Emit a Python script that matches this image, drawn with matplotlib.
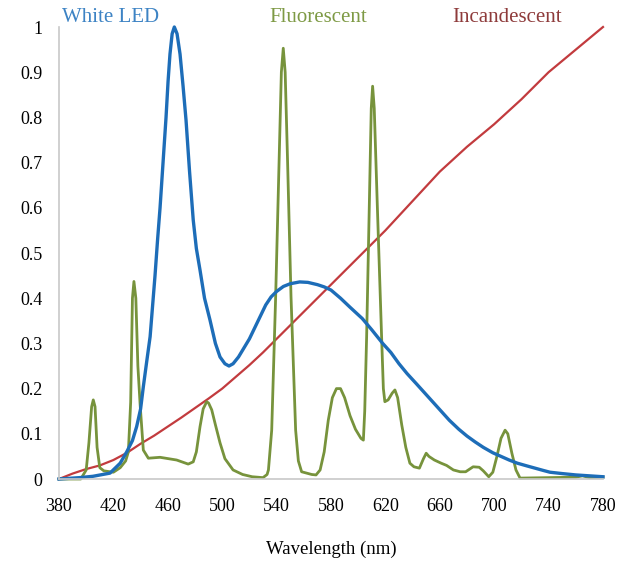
import matplotlib.pyplot as plt

plt.rcParams['font.family'] = 'Liberation Serif'

# spectra (wavelength nm, relative power)
led_nm  = [380, 395, 405, 417.5, 425, 429.8, 434, 437.1, 440, 442, 444.5, 447, 449, 450.6, 452.5, 454.3, 456.5, 458.7,
           460.2, 461.6, 463.2, 464.8, 466.8, 469, 471.2, 473.4, 476, 478.7, 481, 483.7, 487, 491, 495, 498.4, 502,
           505, 508, 512, 516, 520, 524, 528, 532, 536, 540, 545, 550, 557, 563, 570, 575, 580, 587, 594, 603, 610,
           618, 624, 630, 636, 643, 649, 655, 661, 667, 674, 680, 686, 692, 699, 705, 711, 717, 724, 730, 736, 741,
           750, 760, 770, 780]
led_val = [0.0, 0.003, 0.006, 0.013, 0.035, 0.06, 0.085, 0.116, 0.155, 0.204, 0.26, 0.315, 0.39, 0.45, 0.53, 0.6, 0.7, 0.8,
           0.88, 0.94, 0.985, 1.0, 0.985, 0.94, 0.87, 0.794, 0.68, 0.573, 0.51, 0.462, 0.4, 0.352, 0.3, 0.27, 0.255,
           0.25, 0.255, 0.27, 0.29, 0.31, 0.335, 0.36, 0.385, 0.403, 0.415, 0.426, 0.432, 0.436, 0.435, 0.43, 0.425, 0.418, 0.4, 0.38, 0.355, 0.33,
           0.30, 0.28, 0.255, 0.233, 0.21, 0.19, 0.17, 0.15, 0.13, 0.11, 0.095, 0.082, 0.07, 0.058, 0.05, 0.042, 0.035, 0.029, 0.024, 0.019, 0.015,
           0.012, 0.009, 0.007, 0.005]

flu_nm  = [380, 396, 400, 402, 404, 405.2, 406.5, 408, 410, 413, 420, 425, 429, 431, 432.7, 434, 435.1, 436.5, 438,
           439.6, 442, 445.7, 454.3, 466.5, 475, 478.7, 481, 483.7, 486, 488.6, 490, 492.3, 495, 498.4, 502, 508,
           515, 522, 530, 533, 534, 536.4, 539.3, 541.8, 543.5, 544.9, 546.3, 548.1, 550.6, 554, 556, 558.4, 565.8,
           569, 572, 575, 578, 581, 584, 587, 590, 594, 598, 602, 603.8, 604.8, 606.2, 608.2, 609.6, 610.6, 611.8,
           614, 617.2, 618.5, 619.6, 622, 625, 627, 629, 632, 635, 638, 641, 645, 648, 650, 652, 656, 661, 665,
           670, 675, 679, 684.5, 689, 692, 696, 699, 702, 705, 708, 710, 713, 716, 719, 740, 760, 765, 770, 780]
flu_val = [0.0, 0.0, 0.02, 0.08, 0.16, 0.175, 0.16, 0.07, 0.025, 0.018, 0.015, 0.025, 0.04, 0.06, 0.17, 0.40, 0.437, 0.40, 0.25,
           0.167, 0.064, 0.046, 0.048, 0.042, 0.033, 0.038, 0.06, 0.116, 0.155, 0.171, 0.168, 0.153, 0.12, 0.08, 0.045, 0.02,
           0.01, 0.005, 0.003, 0.01, 0.02, 0.108, 0.403, 0.699, 0.9, 0.953, 0.9, 0.699, 0.403, 0.108, 0.04, 0.016, 0.01,
           0.009, 0.02, 0.06, 0.13, 0.18, 0.2, 0.2, 0.18, 0.14, 0.11, 0.09, 0.086, 0.15, 0.315, 0.61, 0.82, 0.869, 0.82,
           0.61, 0.315, 0.2, 0.171, 0.175, 0.19, 0.197, 0.18, 0.12, 0.07, 0.035, 0.027, 0.024, 0.045, 0.057, 0.05, 0.042, 0.035, 0.03,
           0.02, 0.016, 0.016, 0.027, 0.026, 0.018, 0.005, 0.015, 0.05, 0.09, 0.108, 0.1, 0.057, 0.02, 0.002, 0.003, 0.004, 0.007, 0.003, 0.004]

inc_nm  = [380, 390, 400, 410, 420, 430, 440, 450, 460, 470, 480, 490, 500, 510, 520, 530, 540, 550, 560, 580, 600,
           620, 640, 660, 680, 700, 720, 740, 750, 760, 770, 780]
inc_val = [0.0, 0.012, 0.022, 0.03, 0.042, 0.058, 0.078, 0.096, 0.116, 0.136, 0.157, 0.178, 0.2, 0.226, 0.252, 0.28, 0.31, 0.34, 0.37, 0.43, 0.49,
           0.55, 0.615, 0.68, 0.735, 0.785, 0.84, 0.9, 0.925, 0.95, 0.975, 1.0]

xticks = list(range(380, 781, 40))
yticks = [0, 0.1, 0.2, 0.3, 0.4, 0.5, 0.6, 0.7, 0.8, 0.9, 1]
ytick_labels = ['0', '0.1', '0.2', '0.3', '0.4', '0.5', '0.6', '0.7', '0.8', '0.9', '1']

fig = plt.figure(figsize=(6.19, 5.63), dpi=100)
ax = fig.add_axes([59/619, 84/563, 544/619, 452/563])

ax.plot(inc_nm, inc_val, color='#c23b3e', lw=1.6, clip_on=False)
ax.plot(flu_nm, flu_val, color='#77933c', lw=2.0, clip_on=False)
ax.plot(led_nm, led_val, color='#1d6db8', lw=2.4, clip_on=False)

ax.set_xlim(380, 780)
ax.set_ylim(0, 1)
ax.set_xticks(xticks)
ax.set_yticks(yticks)
ax.set_yticklabels(ytick_labels)
ax.tick_params(length=0, labelsize=13)
ax.tick_params(axis='x', pad=14)
ax.tick_params(axis='y', pad=12)
for s in ['top', 'right']:
    ax.spines[s].set_visible(False)
for s in ['left', 'bottom']:
    ax.spines[s].set_color('#c8c8c8')
    ax.spines[s].set_linewidth(1.2)

ax.set_xlabel('Wavelength (nm)', fontsize=13.5, labelpad=18)

ax.text(0.005, 1.022, 'White LED', transform=ax.transAxes, color='#3d83c4', fontsize=15, va='center', ha='left')
ax.text(0.476, 1.022, 'Fluorescent', transform=ax.transAxes, color='#7e9a45', fontsize=15, va='center', ha='center')
ax.text(0.824, 1.022, 'Incandescent', transform=ax.transAxes, color='#8e3b3b', fontsize=15, va='center', ha='center')

fig.savefig('out.png', dpi=100)
